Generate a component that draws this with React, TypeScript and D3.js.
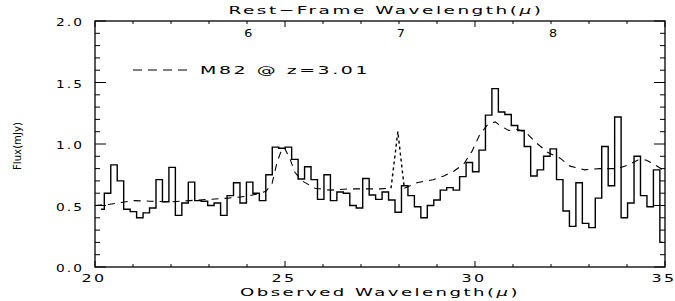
import React from "react";
import * as d3 from "d3";

const WIDTH = 675;
const HEIGHT = 301;
const PLOT = { left: 95, right: 665, top: 21, bottom: 267 };

// observed spectrum (histogram, mJy)
const obsWave = [
  20.16, 20.33, 20.5, 20.67, 20.84, 21.01, 21.18, 21.35, 21.52, 21.69,
  21.86, 22.03, 22.2, 22.37, 22.54, 22.71, 22.88, 23.05, 23.22, 23.39,
  23.56, 23.73, 23.9, 24.07, 24.24, 24.41, 24.58, 24.75, 24.92, 25.09,
  25.26, 25.43, 25.6, 25.77, 25.94, 26.11, 26.28, 26.45, 26.62, 26.79,
  26.96, 27.13, 27.3, 27.47, 27.64, 27.81, 27.98, 28.15, 28.32, 28.49,
  28.66, 28.83, 29.0, 29.17, 29.34, 29.51, 29.68, 29.85, 30.02, 30.19,
  30.36, 30.53, 30.7, 30.87, 31.04, 31.21, 31.38, 31.55, 31.72, 31.89,
  32.06, 32.23, 32.4, 32.57, 32.74, 32.91, 33.08, 33.25, 33.42, 33.59,
  33.76, 33.93, 34.1, 34.27, 34.44, 34.61, 34.78, 34.95,
];
const obsFlux = [
  0.47, 0.6, 0.83, 0.7, 0.47, 0.45, 0.4, 0.44, 0.48, 0.71,
  0.53, 0.81, 0.42, 0.52, 0.69, 0.54, 0.535, 0.5, 0.52, 0.42,
  0.58, 0.685, 0.52, 0.69, 0.6, 0.54, 0.75, 0.975, 0.965, 0.975,
  0.875, 0.715, 0.815, 0.71, 0.55, 0.75, 0.54, 0.61, 0.6, 0.5,
  0.48, 0.72, 0.585, 0.55, 0.61, 0.545, 0.445, 0.66, 0.58, 0.49,
  0.4, 0.5, 0.545, 0.625, 0.645, 0.625, 0.735, 0.85, 0.775, 0.95,
  1.235, 1.45, 1.26, 1.24, 1.15, 1.11, 0.98, 0.74, 0.79, 0.9,
  0.96, 0.71, 0.455, 0.33, 0.685, 0.355, 0.32, 0.56, 0.98, 0.66,
  1.22, 0.4, 0.52, 0.9, 0.58, 0.49, 0.79, 0.2,
];

// M82 template redshifted to z=3.01
const modelWave = [
  20.0, 20.39, 21.0, 21.45, 22.0, 22.5, 23.0, 23.5, 24.0, 24.34,
  24.5, 24.66, 24.79, 24.93, 25.0, 25.13, 25.26, 25.45, 25.79, 26.18,
  26.66, 27.1, 27.5, 27.79, 27.97, 28.14, 28.47, 28.9, 29.18, 29.45,
  29.71, 29.92, 30.13, 30.34, 30.53, 30.71, 30.89, 31.08, 31.32, 31.61,
  31.92, 32.24, 32.5, 32.89, 33.29, 33.76, 34.03, 34.29, 34.5, 34.74, 35.0,
];
const modelFlux = [
  0.5, 0.51, 0.54, 0.535, 0.53, 0.54, 0.55, 0.56, 0.575, 0.6,
  0.615, 0.68, 0.85, 0.97, 0.96, 0.88, 0.77, 0.7, 0.64, 0.625,
  0.635, 0.635, 0.635, 0.64, 1.1, 0.64, 0.685, 0.71, 0.74, 0.78,
  0.84, 0.94, 1.08, 1.16, 1.18, 1.14, 1.11, 1.12, 1.1, 1.01,
  0.93, 0.885, 0.82, 0.79, 0.8, 0.8, 0.83, 0.87, 0.87, 0.83, 0.78,
];

const restLabels = [6, 7, 8];
const redshift = 3.01;
const legendLabel = "M82 @ z=3.01";

const FONT = "DejaVu Sans, sans-serif";

// wide, thin lettering in the style of the old vector fonts
const Label = ({ x, y, len, size = 10, anchor = "middle", children }: any) => (
  <text
    x={x}
    y={y}
    textAnchor={anchor}
    fontFamily={FONT}
    fontSize={size}
    letterSpacing={1.5}
    textLength={len}
    lengthAdjust="spacingAndGlyphs"
    fill="#000"
  >
    {children}
  </text>
);

export default function App() {
  const x = d3.scaleLinear().domain([20, 35]).range([PLOT.left, PLOT.right]);
  const y = d3.scaleLinear().domain([0, 2]).range([PLOT.bottom, PLOT.top]);

  const obs = obsWave.map((w, i) => [w, obsFlux[i]] as [number, number]);
  const model = modelWave.map((w, i) => [w, modelFlux[i]] as [number, number]);

  const stepLine = d3
    .line<[number, number]>()
    .x((d) => x(d[0]))
    .y((d) => y(d[1]))
    .curve(d3.curveStep);
  const modelLine = d3
    .line<[number, number]>()
    .x((d) => x(d[0]))
    .y((d) => y(d[1]));

  // narrow 7 micron line drawn with finer dashes
  const spikeLo = 27.79;
  const spikeHi = 28.14;
  const modelLeft = model.filter((d) => d[0] <= spikeLo);
  const modelSpike = model.filter((d) => d[0] >= spikeLo && d[0] <= spikeHi);
  const modelRight = model.filter((d) => d[0] >= spikeHi);

  const xMajor = x.ticks(3);
  const xMinor = x.ticks(15).filter((t) => !xMajor.includes(t));
  const yMajor = y.ticks(4);
  const yMinor = y.ticks(20).filter((t) => !yMajor.some((m) => Math.abs(m - t) < 1e-6));

  const tickStyle = { stroke: "#000", strokeWidth: 1 };

  return (
    <div style={{ position: "fixed", left: 0, top: 0 }}>
      <svg width={WIDTH} height={HEIGHT} style={{ display: "block", background: "#fff" }}>
        <defs>
          <clipPath id="plotClip">
            <rect x={PLOT.left} y={PLOT.top} width={PLOT.right - PLOT.left} height={PLOT.bottom - PLOT.top} />
          </clipPath>
        </defs>

        <g clipPath="url(#plotClip)">
          <path d={modelLine(modelLeft) || ""} fill="none" stroke="#000" strokeWidth={1.1} strokeDasharray="7,6" />
          <path d={modelLine(modelSpike) || ""} fill="none" stroke="#000" strokeWidth={1.4} strokeDasharray="3,3" />
          <path d={modelLine(modelRight) || ""} fill="none" stroke="#000" strokeWidth={1.1} strokeDasharray="7,6" />
          <path d={stepLine(obs) || ""} fill="none" stroke="#000" strokeWidth={1.4} />
        </g>

        {/* frame */}
        <rect
          x={PLOT.left}
          y={PLOT.top}
          width={PLOT.right - PLOT.left}
          height={PLOT.bottom - PLOT.top}
          fill="none"
          stroke="#000"
          strokeWidth={1.3}
        />

        {/* x ticks bottom and top */}
        {xMajor.map((t) => (
          <g key={"xM" + t}>
            <line x1={x(t)} x2={x(t)} y1={PLOT.bottom} y2={PLOT.bottom - 6} {...tickStyle} />
            <line x1={x(t)} x2={x(t)} y1={PLOT.top} y2={PLOT.top + 6} {...tickStyle} />
            <Label x={x(t) - 1} y={282} len={25}>
              {t}
            </Label>
          </g>
        ))}
        {xMinor.map((t) => (
          <g key={"xm" + t}>
            <line x1={x(t)} x2={x(t)} y1={PLOT.bottom} y2={PLOT.bottom - 3} {...tickStyle} />
            <line x1={x(t)} x2={x(t)} y1={PLOT.top} y2={PLOT.top + 3} {...tickStyle} />
          </g>
        ))}

        {/* y ticks left and right */}
        {yMajor.map((t) => (
          <g key={"yM" + t}>
            <line x1={PLOT.left} x2={PLOT.left + 11} y1={y(t)} y2={y(t)} {...tickStyle} />
            <line x1={PLOT.right} x2={PLOT.right - 11} y1={y(t)} y2={y(t)} {...tickStyle} />
            <Label x={70} y={y(t) + 5} len={28}>
              {d3.format(".1f")(t)}
            </Label>
          </g>
        ))}
        {yMinor.map((t) => (
          <g key={"ym" + t}>
            <line x1={PLOT.left} x2={PLOT.left + 5} y1={y(t)} y2={y(t)} {...tickStyle} />
            <line x1={PLOT.right} x2={PLOT.right - 5} y1={y(t)} y2={y(t)} {...tickStyle} />
          </g>
        ))}

        {/* rest-frame labels */}
        {restLabels.map((r) => (
          <Label key={"r" + r} x={x(r * (1 + redshift))} y={37} len={10}>
            {r}
          </Label>
        ))}

        {/* titles */}
        <Label x={(PLOT.left + PLOT.right) / 2 + 6} y={14} len={315} size={11}>
          Rest−Frame Wavelength(<tspan fontStyle="italic">μ</tspan>)
        </Label>
        <Label x={(PLOT.left + PLOT.right) / 2} y={296} len={280} size={11}>
          Observed Wavelength(<tspan fontStyle="italic">μ</tspan>)
        </Label>
        <text
          transform="translate(21,146) rotate(-90)"
          textAnchor="middle"
          fontFamily={FONT}
          fontSize={10}
          textLength={48}
          lengthAdjust="spacingAndGlyphs"
        >
          Flux(mJy)
        </text>

        {/* legend */}
        <line x1={133} x2={192} y1={70} y2={70} stroke="#000" strokeWidth={1.1} strokeDasharray="9,6" />
        <Label x={200} y={74} len={170} size={11} anchor="start">
          {legendLabel}
        </Label>
      </svg>
    </div>
  );
}
